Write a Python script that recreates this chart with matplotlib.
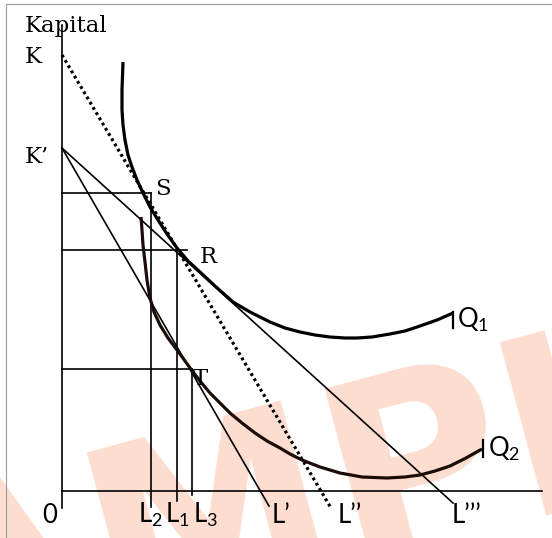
import matplotlib
matplotlib.use("Agg")
import matplotlib.pyplot as plt

plt.rcParams['mathtext.default'] = 'regular'

# ---- data (chart units: origin at 0, x to the right, y upward) ----
axis_x_end = 480
axis_y_top = 466
axis_y_bottom = -17

K_level = 436
Kp_level = 343

# budget lines (start on capital axis, end below labour axis)
line_Lp_x = [0, 207]
line_Lp_y = [343, -15]
line_Lpp_x = [0, 269]
line_Lpp_y = [436, -17]
line_Lppp_x = [0, 391]
line_Lppp_y = [343, -12]

# guide lines for S, R, T
S_point = (89, 298)
R_point = (115, 241)
T_point = (130, 122)
S_hline_end = 89
R_hline_end = 125
T_hline_end = 130
L2_bottom = -16
L1_bottom = -10
L3_bottom = -4

# isoquants
Q1_x = [61, 60, 60, 61, 63, 66, 70, 75, 81, 88, 96, 105, 115, 126, 138, 153, 171, 188,
        208, 223, 238, 253, 268, 283, 295, 310, 328, 343, 358, 375, 391]
Q1_y = [429, 401, 381, 366, 351, 336, 324, 311, 298, 284, 271, 257, 243, 230, 219, 205,
        189, 179, 169, 163, 159, 156, 154, 153, 153, 154, 157, 160, 165, 171, 178]
Q2_x = [79, 80, 81, 83, 85, 88, 92, 98, 106, 115, 123, 131, 138, 148, 158, 168, 180, 193,
        205, 218, 228, 240, 258, 278, 300, 325, 343, 358, 373, 388, 404, 420]
Q2_y = [274, 261, 246, 229, 211, 193, 179, 166, 153, 141, 130, 119, 110, 98, 88, 78, 68,
        58, 50, 43, 37, 31, 24, 18, 14, 13, 14, 16, 20, 25, 33, 42]

# labels
x_labels = ['0', 'L$_2$', 'L$_1$', 'L$_3$', 'L’', 'L’’', 'L’’’']
x_label_pos = [-12, 88, 115, 143, 219, 288, 405]
y_labels = ['Kapital', 'K', 'K’']
y_label_pos = [459, 428, 328]
point_labels = ['S', 'R', 'T']
point_label_x = [93, 138, 131]
point_label_y = [296, 228, 106]
q_labels = ['Q$_1$', 'Q$_2$']
q_label_x = [395, 426]
q_label_y = [163, 34]
q_tick_x = [390.5, 421]
q_tick_y0 = [163, 34]
q_tick_y1 = [179, 51]

# ---- figure ----
fig = plt.figure(figsize=(5.52, 5.38), dpi=100)
ax = fig.add_axes([0, 0, 1, 1])
ax.set_xlim(-62, 490)
ax.set_ylim(-47, 491)
ax.axis('off')

# watermark
ax.text(-308, -232, 'SAMPLE', fontsize=178, fontweight='bold', family='DejaVu Sans',
        color='#FDDDCF', rotation=15, rotation_mode='anchor', ha='left', va='baseline',
        zorder=0)

# frame border (top and left)
ax.plot([-56, -56], [-47, 487], color='#9a9a9a', lw=0.8, zorder=1)
ax.plot([-56, 490], [487, 487], color='#9a9a9a', lw=0.8, zorder=1)

thin = 1.2
thick = 2.3
# axes
ax.plot([0, 0], [axis_y_bottom, axis_y_top], color='black', lw=thin, zorder=3)
ax.plot([0, axis_x_end], [0, 0], color='black', lw=thin, zorder=3)

# guide lines
ax.plot([0, S_hline_end], [S_point[1], S_point[1]], color='black', lw=thin, zorder=3)
ax.plot([0, R_hline_end], [R_point[1], R_point[1]], color='black', lw=thin, zorder=3)
ax.plot([0, T_hline_end], [T_point[1], T_point[1]], color='black', lw=thin, zorder=3)
ax.plot([S_point[0], S_point[0]], [S_point[1], L2_bottom], color='black', lw=thin, zorder=3)
ax.plot([R_point[0], R_point[0]], [R_point[1], L1_bottom], color='black', lw=thin, zorder=3)
ax.plot([T_point[0], T_point[0]], [T_point[1], L3_bottom], color='black', lw=thin, zorder=3)

# budget lines
ax.plot(line_Lp_x, line_Lp_y, color='black', lw=thin, zorder=3)
ax.plot(line_Lppp_x, line_Lppp_y, color='black', lw=thin, zorder=3)
ax.plot(line_Lpp_x, line_Lpp_y, color='black', lw=2.3, linestyle=(0, (0.9, 1.0)),
        dash_capstyle='butt', zorder=3)

# isoquants
ax.plot(Q1_x, Q1_y, color='black', lw=thick, solid_joinstyle='round',
        solid_capstyle='butt', zorder=4)
ax.plot(Q2_x, Q2_y, color='#1a0c06', lw=thick, solid_joinstyle='round',
        solid_capstyle='butt', zorder=4)
for tx, t0, t1 in zip(q_tick_x, q_tick_y0, q_tick_y1):
    ax.plot([tx, tx], [t0, t1], color='black', lw=1.6, zorder=4)

serif = 'DejaVu Serif'
sans = 'Lato'
for lab, xp in zip(x_labels, x_label_pos):
    ax.text(xp, -32, lab, fontsize=18.5, family=sans, ha='center', va='baseline', zorder=5)
for lab, yp in zip(y_labels, y_label_pos):
    ax.text(-37, yp, lab, fontsize=16.5, family=serif, ha='left', va='baseline', zorder=5)
for lab, xp, yp in zip(point_labels, point_label_x, point_label_y):
    ax.text(xp, yp, lab, fontsize=16.5, family=serif, ha='left', va='baseline', zorder=5)
for lab, xp, yp in zip(q_labels, q_label_x, q_label_y):
    ax.text(xp, yp, lab, fontsize=18.5, family=sans, ha='left', va='baseline', zorder=5)

fig.savefig('out.png', dpi=100)
